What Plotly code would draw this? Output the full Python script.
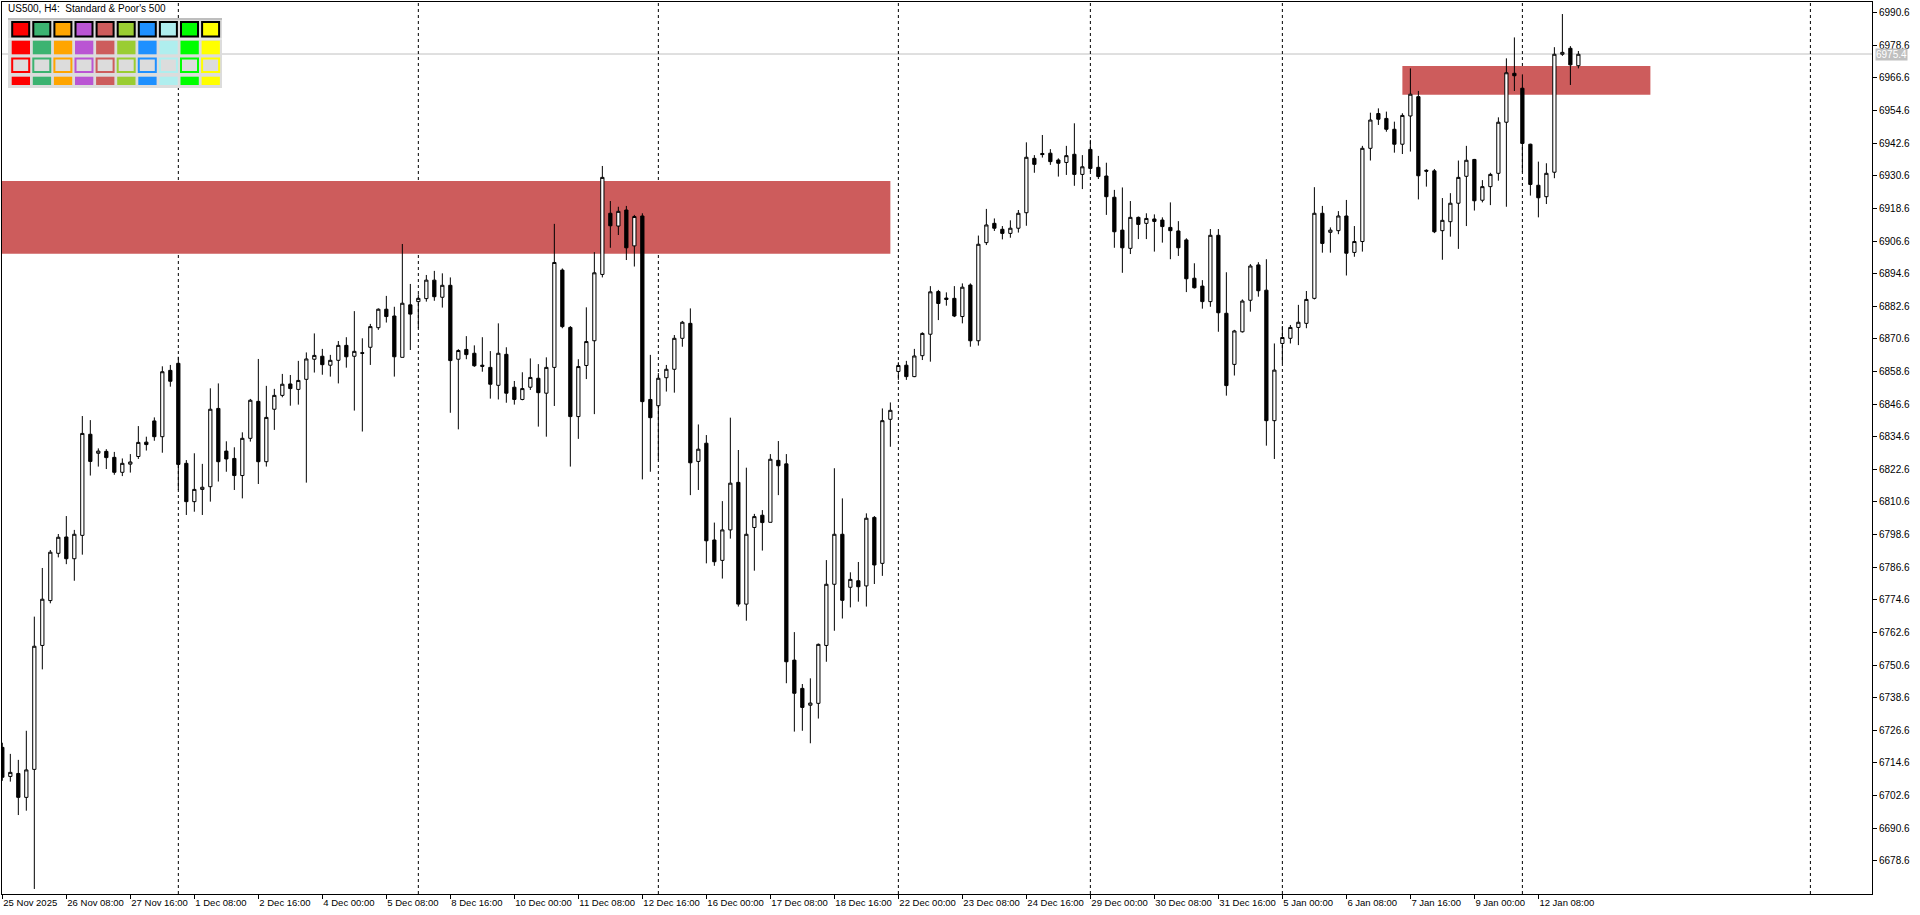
import plotly.graph_objects as go

# ---------------- data ----------------
opens = [
 6720.3,6709.6,6710.7,6701.9,6712.2,6757.8,6774.3,6791.7,6797.7,6789.7,
 6798.3,6835.5,6828.5,6829.2,6827.0,6821.5,6824.5,6827.3,6832.6,6840.4,
 6834.6,6859.0,6861.6,6824.8,6810.7,6815.2,6816.2,6845.0,6829.3,6826.6,
 6820.3,6834.0,6847.6,6825.4,6844.7,6849.8,6854.0,6852.0,6855.7,6863.1,
 6864.2,6860.9,6862.7,6868.2,6864.2,6865.5,6867.5,6874.7,6881.5,6879.0,
 6863.8,6883.1,6884.3,6885.4,6892.2,6885.9,6890.3,6863.1,6866.7,6865.3,
 6860.9,6860.1,6853.5,6864.9,6852.8,6848.3,6852.8,6856.1,6850.6,6860.1,
 6895.9,6874.8,6842.0,6860.8,6869.9,6894.3,6916.8,6912.1,6918.0,6904.8,
 6915.8,6848.3,6846.0,6856.3,6859.4,6870.8,6876.3,6825.5,6832.2,6796.6,
 6789.1,6800.3,6817.8,6773.0,6801.2,6805.7,6803.1,6825.9,6824.6,6752.4,
 6742.0,6735.8,6736.5,6757.8,6780.3,6798.7,6779.2,6781.6,6779.7,6804.9,
 6788.0,6841.0,6858.6,6860.9,6856.7,6864.4,6872.3,6888.0,6885.6,6885.5,
 6878.8,6890.4,6869.9,6906.0,6913.1,6910.9,6909.4,6911.3,6917.0,6937.0,
 6938.8,6938.9,6936.4,6935.5,6938.5,6931.1,6940.3,6933.7,6930.5,6922.7,
 6910.6,6903.9,6915.3,6913.1,6914.7,6914.3,6911.6,6910.3,6907.0,6892.9,
 6890.0,6884.3,6908.7,6880.0,6861.2,6873.2,6884.8,6897.8,6888.5,6840.5,
 6868.9,6870.8,6874.8,6876.3,6885.5,6916.8,6909.8,6910.4,6915.8,6902.4,
 6906.4,6940.7,6953.5,6951.7,6947.7,6942.2,6952.6,6959.7,6932.6,6932.4,
 6910.4,6913.7,6920.5,6930.4,6936.6,6921.6,6926.6,6931.5,6950.3,6968.3,
 6962.8,6942.2,6927.1,6922.9,6931.9,6975.3,6977.5,6971.1,
]
highs = [
 6722.0,6717.9,6715.7,6726.4,6768.4,6786.3,6792.9,6798.8,6805.4,6800.3,
 6842.2,6840.7,6830.3,6830.0,6829.0,6826.6,6828.2,6838.5,6834.6,6841.7,
 6860.5,6861.0,6864.0,6826.0,6828.5,6824.6,6852.4,6854.2,6832.9,6830.7,
 6836.2,6848.5,6863.2,6853.3,6852.2,6857.7,6857.3,6862.5,6865.6,6872.6,
 6866.9,6864.7,6869.8,6871.2,6880.8,6870.8,6876.1,6881.8,6886.4,6882.4,
 6905.5,6890.8,6887.0,6894.1,6895.6,6894.7,6893.2,6866.8,6871.6,6868.2,
 6871.2,6866.1,6876.3,6867.5,6855.1,6858.3,6863.4,6861.3,6863.8,6912.9,
 6896.5,6875.3,6863.1,6882.2,6902.5,6934.2,6921.3,6919.2,6919.5,6916.2,
 6916.8,6864.7,6858.0,6861.0,6872.0,6877.2,6881.8,6839.1,6835.2,6803.0,
 6810.9,6841.6,6829.7,6823.2,6806.2,6807.6,6828.2,6833.0,6828.2,6762.7,
 6743.6,6745.7,6758.5,6789.2,6823.0,6811.9,6784.7,6788.5,6806.4,6805.4,
 6845.0,6847.2,6862.0,6862.5,6866.9,6873.0,6890.0,6888.6,6887.7,6890.0,
 6891.0,6891.0,6908.6,6918.4,6914.9,6912.1,6914.2,6918.0,6942.9,6938.2,
 6945.6,6940.4,6937.0,6941.6,6949.9,6938.2,6943.8,6937.9,6935.4,6925.4,
 6926.3,6921.3,6915.6,6916.8,6916.4,6915.3,6920.8,6913.9,6907.6,6898.4,
 6892.2,6911.0,6911.0,6895.1,6873.9,6885.1,6898.1,6898.8,6899.9,6868.9,
 6875.3,6875.7,6883.1,6888.2,6926.4,6919.5,6911.6,6917.6,6921.7,6912.1,
 6941.6,6953.8,6955.4,6954.2,6950.5,6953.6,6970.1,6961.8,6933.0,6933.1,
 6922.4,6924.2,6936.2,6941.6,6936.8,6929.0,6931.7,6952.1,6973.8,6981.5,
 6967.9,6942.4,6935.8,6935.2,6977.9,6990.1,6978.3,6976.5,
]
lows = [
 6708.0,6707.7,6695.4,6697.0,6668.2,6749.0,6773.3,6790.2,6787.7,6781.6,
 6791.2,6820.3,6823.6,6822.7,6820.6,6820.1,6821.4,6826.4,6829.5,6833.1,
 6828.7,6853.0,6815.0,6805.8,6807.0,6805.8,6810.7,6818.1,6821.7,6815.0,
 6811.9,6832.8,6817.2,6823.6,6837.1,6849.1,6846.0,6846.4,6817.7,6858.2,
 6857.4,6856.7,6854.2,6860.0,6844.2,6836.5,6861.0,6873.9,6876.6,6856.7,
 6863.8,6866.5,6874.5,6884.3,6884.6,6882.1,6843.4,6837.3,6863.1,6860.3,
 6858.5,6848.6,6848.3,6847.1,6846.4,6848.0,6851.8,6838.3,6834.6,6845.9,
 6874.5,6823.6,6833.8,6855.8,6842.9,6893.2,6904.1,6908.8,6899.6,6897.2,
 6818.9,6821.7,6826.0,6851.2,6850.8,6867.7,6813.1,6815.0,6788.0,6787.1,
 6782.4,6797.1,6772.1,6766.9,6785.3,6792.7,6803.1,6813.1,6743.9,6726.1,
 6726.4,6721.8,6730.9,6751.8,6763.2,6767.7,6771.8,6773.9,6772.1,6780.4,
 6783.4,6830.9,6855.5,6855.5,6856.5,6862.8,6862.2,6877.5,6882.8,6878.6,
 6876.3,6867.7,6868.1,6905.1,6910.3,6907.2,6907.8,6909.7,6912.2,6931.7,
 6937.3,6934.6,6930.3,6930.9,6926.9,6925.7,6932.1,6929.4,6916.2,6904.1,
 6894.9,6901.8,6907.3,6907.3,6902.7,6906.0,6899.9,6901.1,6887.8,6889.1,
 6881.7,6882.4,6873.2,6849.7,6857.1,6872.9,6880.6,6886.1,6831.3,6826.4,
 6861.6,6868.9,6868.3,6874.5,6885.1,6902.3,6902.3,6909.1,6893.9,6900.8,
 6902.7,6936.2,6949.3,6946.8,6939.1,6938.6,6939.5,6921.9,6926.6,6909.5,
 6899.7,6908.2,6903.7,6912.1,6917.8,6920.8,6919.8,6928.8,6919.2,6961.8,
 6931.9,6923.3,6915.3,6920.2,6929.7,6974.7,6964.0,6970.1,
]
closes = [
 6709.3,6711.1,6701.9,6712.0,6757.5,6774.8,6792.1,6797.6,6789.7,6798.7,
 6835.8,6825.5,6829.3,6826.9,6821.5,6824.8,6825.3,6832.5,6831.7,6834.6,
 6858.5,6855.0,6824.4,6810.7,6815.2,6816.0,6844.7,6825.4,6826.4,6820.3,
 6834.0,6848.0,6825.4,6841.7,6849.8,6853.9,6852.3,6855.3,6863.2,6864.5,
 6861.1,6862.7,6868.2,6864.0,6866.0,6865.3,6875.1,6881.5,6878.8,6864.0,
 6883.7,6879.7,6885.5,6892.2,6886.1,6890.3,6862.6,6866.3,6864.8,6860.7,
 6860.5,6853.9,6865.3,6850.6,6848.3,6852.3,6856.4,6850.8,6860.1,6898.7,
 6875.1,6842.0,6860.4,6869.6,6894.9,6930.0,6912.2,6917.5,6904.1,6915.6,
 6847.5,6841.6,6856.1,6859.4,6870.8,6876.7,6825.0,6830.0,6796.3,6788.6,
 6800.3,6817.5,6773.0,6798.7,6805.2,6803.0,6826.3,6823.9,6751.8,6740.2,
 6735.0,6736.6,6758.2,6780.3,6798.7,6774.4,6782.1,6779.4,6804.6,6787.4,
 6840.5,6844.3,6860.8,6856.7,6864.3,6872.6,6887.9,6883.6,6885.1,6879.0,
 6889.6,6869.9,6905.4,6912.5,6911.3,6909.4,6911.3,6916.8,6937.4,6934.8,
 6938.4,6935.8,6935.2,6938.0,6931.1,6933.9,6933.3,6930.3,6922.9,6910.0,
 6904.1,6915.3,6912.7,6914.9,6913.8,6911.9,6910.4,6904.1,6892.7,6889.4,
 6884.3,6908.7,6880.2,6853.4,6873.5,6884.5,6897.4,6888.3,6840.5,6859.1,
 6871.1,6874.8,6876.7,6885.1,6916.8,6905.7,6910.6,6915.8,6902.1,6906.4,
 6940.7,6951.1,6951.4,6947.7,6942.2,6952.8,6960.6,6930.6,6932.3,6910.0,
 6914.2,6920.5,6930.0,6936.3,6921.4,6926.6,6931.1,6950.3,6968.5,6967.4,
 6942.5,6927.4,6922.5,6931.5,6975.3,6976.0,6971.4,6975.3,
]

time_label_bars = [0, 8, 16, 24, 32, 40, 48, 56, 64, 72, 80, 88, 96, 104,
                   112, 120, 128, 136, 144, 152, 160, 168, 176, 184, 192]
time_labels = ["25 Nov 2025", "26 Nov 08:00", "27 Nov 16:00", "1 Dec 08:00",
               "2 Dec 16:00", "4 Dec 00:00", "5 Dec 08:00", "8 Dec 16:00",
               "10 Dec 00:00", "11 Dec 08:00", "12 Dec 16:00", "16 Dec 00:00",
               "17 Dec 08:00", "18 Dec 16:00", "22 Dec 00:00", "23 Dec 08:00",
               "24 Dec 16:00", "29 Dec 00:00", "30 Dec 08:00", "31 Dec 16:00",
               "5 Jan 00:00", "6 Jan 08:00", "7 Jan 16:00", "9 Jan 00:00",
               "12 Jan 08:00"]

separator_bars = [22, 52, 82, 112, 136, 160, 190, 226]

price_ticks = [6678.6, 6690.6, 6702.6, 6714.6, 6726.6, 6738.6, 6750.6, 6762.6,
               6774.6, 6786.6, 6798.6, 6810.6, 6822.6, 6834.6, 6846.6, 6858.6,
               6870.6, 6882.6, 6894.6, 6906.6, 6918.6, 6930.6, 6942.6, 6954.6,
               6966.6, 6978.6, 6990.6]

zone_start = [-5, 175]
zone_end = [111, 206]
zone_low = [6901.9, 6960.4]
zone_high = [6928.7, 6971.0]

bid_price = 6975.4

palette_colors = ["#FF0000", "#3CB371", "#FFA500", "#BA55D3", "#CD5C5C",
                  "#9ACD32", "#1E90FF", "#AFEEEE", "#00FF00", "#FFFF00"]

bars = list(range(len(opens)))

# ---------------- figure ----------------
W, H = 1920, 915
ML, MR, MT, MB = 2, 48, 2, 21
PW, PH = W - ML - MR, H - MT - MB

def px(xp):
    return (xp - ML) / PW

def py(yp):
    return 1 - (yp - MT) / PH

FONT = "Liberation Sans, Arial, DejaVu Sans, sans-serif"

fig = go.Figure()
fig.add_trace(go.Candlestick(
    x=bars, open=opens, high=highs, low=lows, close=closes,
    increasing=dict(line=dict(color="black", width=1), fillcolor="white"),
    decreasing=dict(line=dict(color="black", width=1), fillcolor="black"),
    whiskerwidth=0, showlegend=False, hoverinfo="skip",
))

shapes = []
for x0, x1, lo, hi in zip(zone_start, zone_end, zone_low, zone_high):
    shapes.append(dict(type="rect", xref="x", yref="y", x0=x0, x1=x1, y0=lo, y1=hi,
                       fillcolor="#CD5C5C", line=dict(width=0), layer="below"))
shapes.append(dict(type="line", xref="paper", yref="y", x0=0, x1=1,
                   y0=bid_price, y1=bid_price,
                   line=dict(color="#C0C0C0", width=1), layer="below"))
for b in separator_bars:
    shapes.append(dict(type="line", xref="x", yref="paper", x0=b, x1=b, y0=0, y1=1,
                       line=dict(color="black", width=1, dash="3px,3px"), layer="below"))

# palette panel (top-left)
shapes.append(dict(type="rect", xref="paper", yref="paper",
                   x0=px(8), x1=px(222), y0=py(88), y1=py(18),
                   fillcolor="#DCDCDC", line=dict(width=0), layer="above"))
shapes.append(dict(type="line", xref="paper", yref="paper",
                   x0=px(8), x1=px(222), y0=py(19), y1=py(19),
                   line=dict(color="#BEBEBE", width=2), layer="above"))
shapes.append(dict(type="line", xref="paper", yref="paper",
                   x0=px(8), x1=px(222), y0=py(39), y1=py(39),
                   line=dict(color="#F0F0F0", width=1), layer="above"))
cell_x = [11.7, 32.8, 53.9, 75.0, 96.1, 117.2, 138.3, 159.4, 180.5, 201.6]
for cx, col in zip(cell_x, palette_colors):
    shapes.append(dict(type="rect", xref="paper", yref="paper",
                       x0=px(cx + 0.5), x1=px(cx + 17.5), y0=py(36.5), y1=py(22),
                       fillcolor=col, line=dict(color="black", width=2), layer="above"))
    shapes.append(dict(type="rect", xref="paper", yref="paper",
                       x0=px(cx), x1=px(cx + 18.3), y0=py(54.3), y1=py(40.7),
                       fillcolor=col, line=dict(width=0), layer="above"))
    shapes.append(dict(type="rect", xref="paper", yref="paper",
                       x0=px(cx + 0.5), x1=px(cx + 17.5), y0=py(72), y1=py(58.5),
                       fillcolor="#DCDCDC", line=dict(color=col, width=2), layer="above"))
    shapes.append(dict(type="rect", xref="paper", yref="paper",
                       x0=px(cx), x1=px(cx + 18.3), y0=py(85), y1=py(76.7),
                       fillcolor=col, line=dict(width=0), layer="above"))

annotations = [
    dict(text="US500, H4:\u00a0 Standard &amp; Poor's 500", xref="paper", yref="paper",
         x=px(6), y=py(9), xanchor="left", yanchor="middle", showarrow=False,
         font=dict(family=FONT, size=10, color="black")),
    dict(text=f"{bid_price:.1f}", xref="paper", yref="y", x=1, y=bid_price,
         xanchor="left", yanchor="middle", xshift=3, showarrow=False,
         bgcolor="#C0C0C0", borderpad=0,
         font=dict(family=FONT, size=10, color="white")),
]

fig.update_layout(
    width=W, height=H,
    margin=dict(l=ML, r=MR, t=MT, b=MB, autoexpand=False),
    paper_bgcolor="white", plot_bgcolor="white",
    showlegend=False,
    boxgap=0.42,
    shapes=shapes, annotations=annotations,
    xaxis=dict(
        range=[-0.04, 233.7], rangeslider=dict(visible=False),
        showgrid=False, zeroline=False, automargin=False,
        showline=True, linecolor="black", linewidth=1, mirror=True,
        tickmode="array", tickvals=time_label_bars, ticktext=time_labels,
        ticks="outside", ticklen=4, tickcolor="black", tickwidth=1,
        tickangle=0, ticklabelposition="outside right",
        ticklabeloverflow="allow",
        tickfont=dict(family=FONT, size=9.5, color="black"),
    ),
    yaxis=dict(
        range=[6666.35, 6994.53], side="right",
        showgrid=False, zeroline=False, automargin=False,
        showline=True, linecolor="black", linewidth=1, mirror=True,
        tickmode="array", tickvals=price_ticks,
        ticktext=[f"{v:.1f}" for v in price_ticks],
        ticks="outside", ticklen=4, tickcolor="black", tickwidth=1,
        ticklabeloverflow="allow",
        tickfont=dict(family=FONT, size=10, color="black"),
    ),
)

fig.write_html(
    "out.html",
    config={"displayModeBar": False},
    post_script="document.body.style.margin='0';document.body.style.overflow='hidden';",
)
